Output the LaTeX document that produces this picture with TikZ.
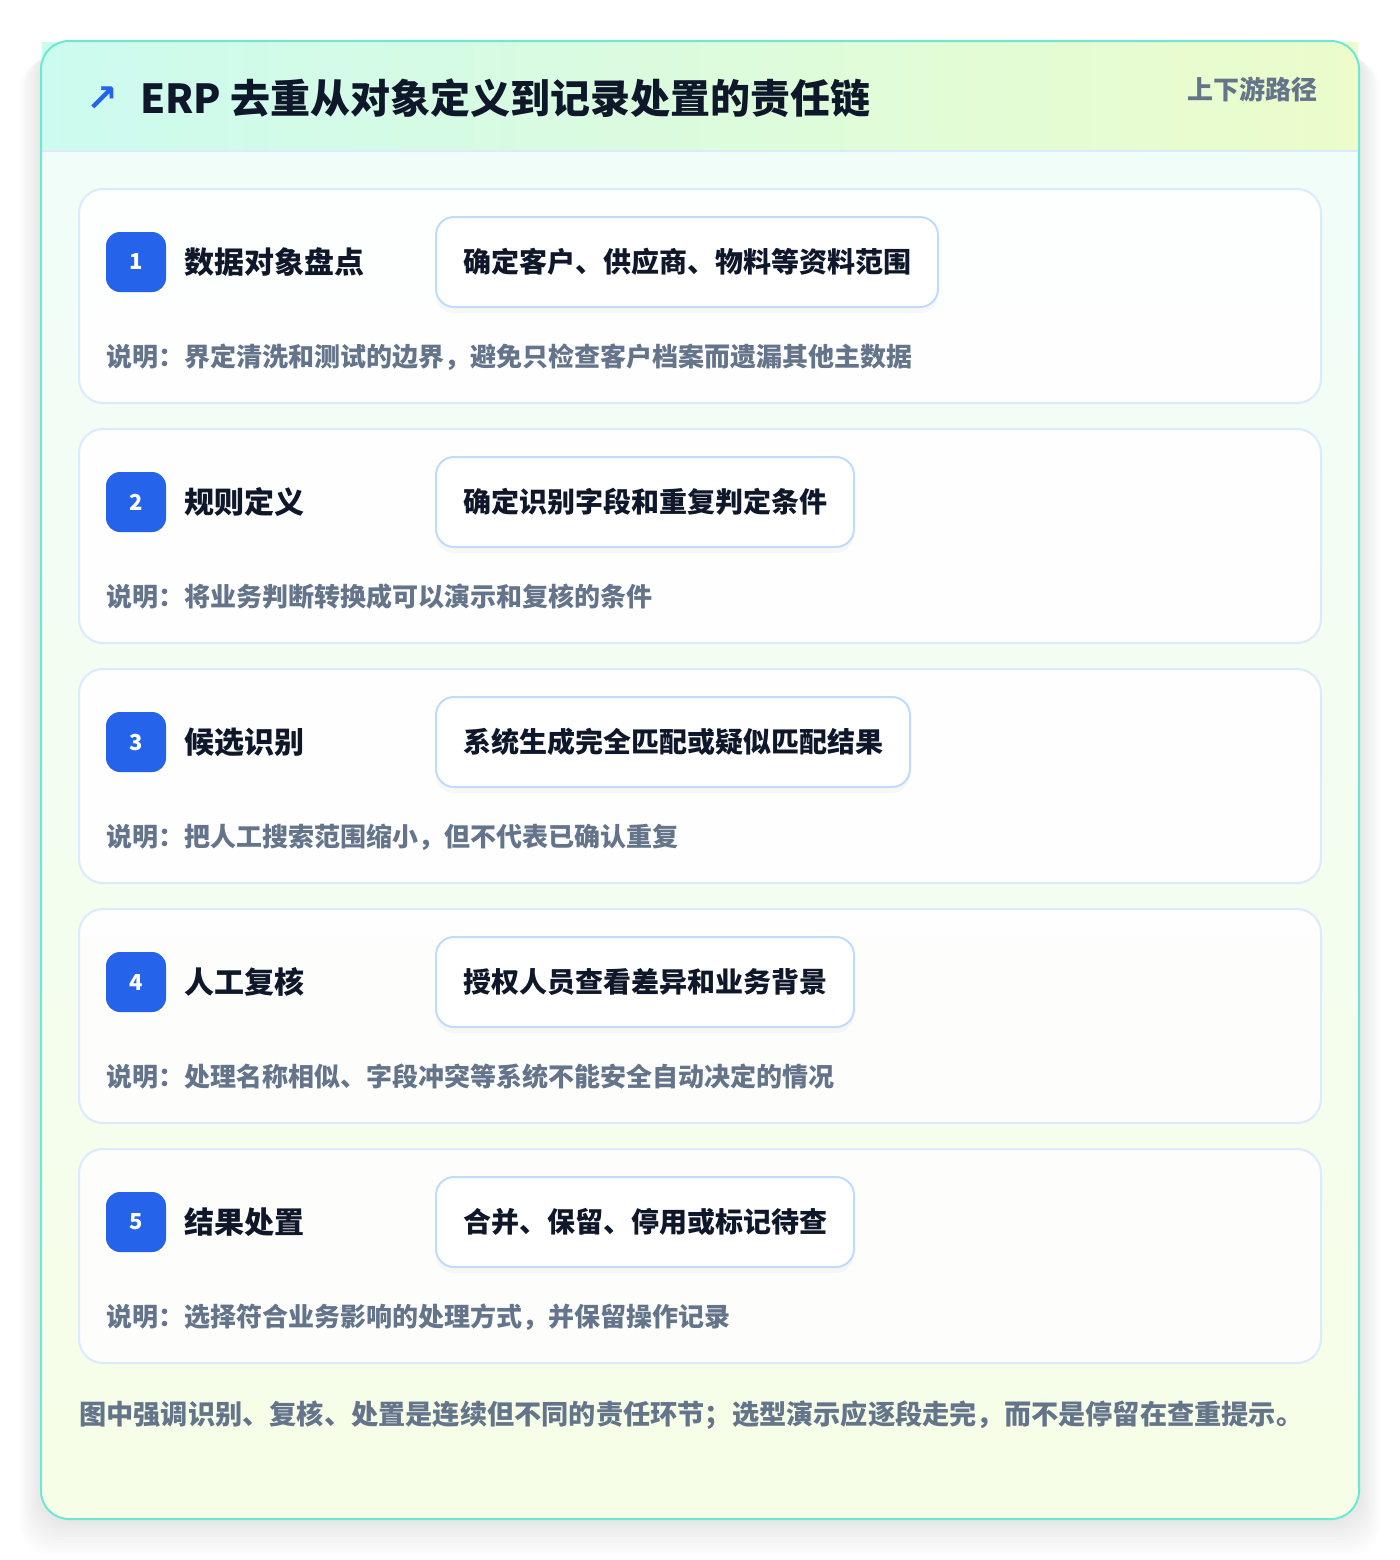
\documentclass[tikz,border=0pt]{standalone}
\usepackage{fontspec}
\setmainfont{Noto Sans CJK SC}
\newfontfamily\symfont{DejaVu Sans}
\usetikzlibrary{shadows}
\definecolor{ink}{HTML}{0F172A}
\definecolor{slate}{HTML}{64748B}
\definecolor{brandblue}{HTML}{2563EB}
\definecolor{tealborder}{HTML}{6EE7D4}
\definecolor{hdrL}{HTML}{CCFBEF}
\definecolor{hdrR}{HTML}{ECFCCB}
\definecolor{bgtop}{HTML}{F0FDFA}
\definecolor{bgbot}{HTML}{F7FEE7}
\definecolor{cardline}{HTML}{DBEAFE}
\definecolor{pillline}{HTML}{BFDBFE}
\begin{document}
\begin{tikzpicture}[x=0.5pt,y=-0.5pt,
  cardbox/.style={draw=cardline,line width=1pt,fill=white,fill opacity=0.88,draw opacity=1,rounded corners=12pt,minimum width=621pt,minimum height=107pt,inner sep=0pt},
  badge/.style={fill=brandblue,rounded corners=7pt,minimum width=30pt,minimum height=30pt,inner sep=0pt,text=white,font=\fontsize{11}{13}\selectfont\bfseries},
  steptitle/.style={anchor=west,inner sep=0pt,text=ink,font=\fontsize{15}{18}\selectfont\bfseries},
  pill/.style={anchor=west,draw=pillline,line width=1pt,fill=white,rounded corners=9pt,minimum height=45pt,inner xsep=13.5pt,inner ysep=0pt,text=ink,font=\fontsize{14}{17}\selectfont\bfseries,drop shadow={opacity=0.05,shadow xshift=0pt,shadow yshift=-3pt}},
  desc/.style={anchor=west,inner sep=0pt,text=slate,font=\fontsize{13}{16}\selectfont\bfseries}]
\useasboundingbox (0,0) rectangle (1400,1560);
\fill[white] (0,0) rectangle (1400,1560);
% soft shadow of the outer panel
\foreach \i in {1,...,12}{
  \fill[black,opacity=0.007,rounded corners=16pt] (41-\i*1.8,41+\i*1.5) rectangle (1359+\i*1.8,1519+\i*3);
}
% outer panel
\path[rounded corners=14pt,top color=bgtop,bottom color=bgbot] (41,41) rectangle (1359,1519);
\path[left color=hdrL,right color=hdrR] (42,42) rectangle (1358,151);
\draw[cardline,line width=1pt] (42,151) -- (1358,151);
\draw[tealborder,line width=1pt,rounded corners=14pt] (41,41) rectangle (1359,1519);
% header
\node[inner sep=0pt,text=brandblue,font=\fontsize{19}{21}\selectfont\symfont\bfseries] (icon) at (102,99) {↗};
\node[anchor=west,inner sep=0pt,text=ink,font=\fontsize{20}{24}\selectfont\bfseries] (title) at (140,98) {ERP 去重从对象定义到记录处置的责任链};
\node[anchor=east,inner sep=0pt,text=slate,font=\fontsize{13}{16}\selectfont\bfseries] (route) at (1318,89) {上下游路径};
% steps
\foreach \n/\yy/\ttl/\pl/\ds in {
  1/0/数据对象盘点/确定客户、供应商、物料等资料范围/说明：界定清洗和测试的边界，避免只检查客户档案而遗漏其他主数据,
  2/240/规则定义/确定识别字段和重复判定条件/说明：将业务判断转换成可以演示和复核的条件,
  3/480/候选识别/系统生成完全匹配或疑似匹配结果/说明：把人工搜索范围缩小，但不代表已确认重复,
  4/720/人工复核/授权人员查看差异和业务背景/说明：处理名称相似、字段冲突等系统不能安全自动决定的情况,
  5/960/结果处置/合并、保留、停用或标记待查/说明：选择符合业务影响的处理方式，并保留操作记录}{
  \node[cardbox] (card\n) at (700,296+\yy) {};
  \node[badge] (badge\n) at (136,262+\yy) {\n};
  \node[steptitle] (title\n) at (184,262+\yy) {\ttl};
  \node[pill] (pill\n) at (435,262+\yy) {\pl};
  \node[desc] (desc\n) at (106,357+\yy) {\ds};
}
% footer
\node[anchor=west,inner sep=0pt,text=slate,font=\fontsize{13.6}{16}\selectfont\bfseries] (foot) at (79,1415) {图中强调识别、复核、处置是连续但不同的责任环节；选型演示应逐段走完，而不是停留在查重提示。};
\end{tikzpicture}
\end{document}
